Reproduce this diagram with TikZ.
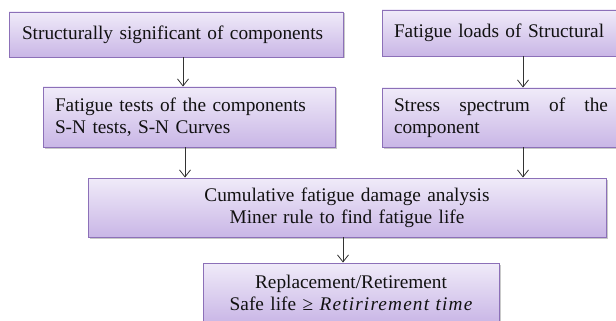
\documentclass[tikz,border=0pt]{standalone}
\usepackage{fontspec}
\setmainfont{Liberation Serif}
\usetikzlibrary{positioning, calc, arrows.meta, shadows}
\definecolor{Ink}{HTML}{111111}
\definecolor{Edge}{HTML}{8C70B8}
\definecolor{LilacTop}{HTML}{F0EBF9}
\definecolor{LilacBot}{HTML}{C9B6E6}
\definecolor{Wire}{HTML}{333333}
\hyphenpenalty=10000
\tikzset{
    lilacnode/.style={rectangle, draw=Edge, line width=0.9pt, top color=LilacTop, bottom color=LilacBot,
        text=Ink, inner xsep=12pt, inner ysep=0pt, font=\fontsize{19.3}{22}\selectfont,
        drop shadow={shadow xshift=1.5pt, shadow yshift=-1.5pt, opacity=0.3, fill=black!70}},
    flow/.style={-{Straight Barb[length=7pt, width=11pt]}, line width=0.8pt, color=Wire},
}
\begin{document}
\begin{tikzpicture}[x=1pt, y=-1pt]
    % Cornice
    \useasboundingbox (0,0) rectangle (616,321);

    % Riga superiore
    \node[lilacnode, text width=308pt, inner xsep=13pt, minimum height=45pt, align=left] (signif) at (176,34.5)
        {Structurally significant of components};
    \node[lilacnode, text width=214pt, minimum height=46pt, align=left] (loads) at (501,33)
        {Fatigue loads of Structural};

    % Riga centrale
    \node[lilacnode, text width=268pt, minimum height=60pt, align=left] (tests) at (189,117)
        {Fatigue tests of the components\\S-N tests, S-N Curves};
    \node[lilacnode, text width=214pt, minimum height=59pt, align=justify] (spectrum) at (501,117.5)
        {Stress spectrum of the component};

    % Analisi e vita
    \node[lilacnode, text width=494pt, minimum height=59pt, align=center] (miner) at (347,207.5)
        {Cumulative fatigue damage analysis\\Miner rule to find fatigue life};
    \node[lilacnode, text width=272pt, minimum height=60pt, align=center] (life) at (351,293)
        {Replacement/Retirement\\Safe life ≥ {\itshape\addfontfeatures{LetterSpace=6}Retirirement time}};

    % Frecce
    \draw[flow] ([xshift=7pt]signif.south) -- ([xshift=-6pt]tests.north);
    \draw[flow] ([xshift=22pt]loads.south) -- ([xshift=22pt]spectrum.north);
    \draw[flow] ([xshift=-4pt]tests.south) -- ([xshift=-4pt]tests.south |- miner.north);
    \draw[flow] ([xshift=22pt]spectrum.south) -- ([xshift=22pt]spectrum.south |- miner.north);
    \draw[flow] ([xshift=-4pt]miner.south) -- ([xshift=-4pt]miner.south |- life.north);
\end{tikzpicture}
\end{document}
